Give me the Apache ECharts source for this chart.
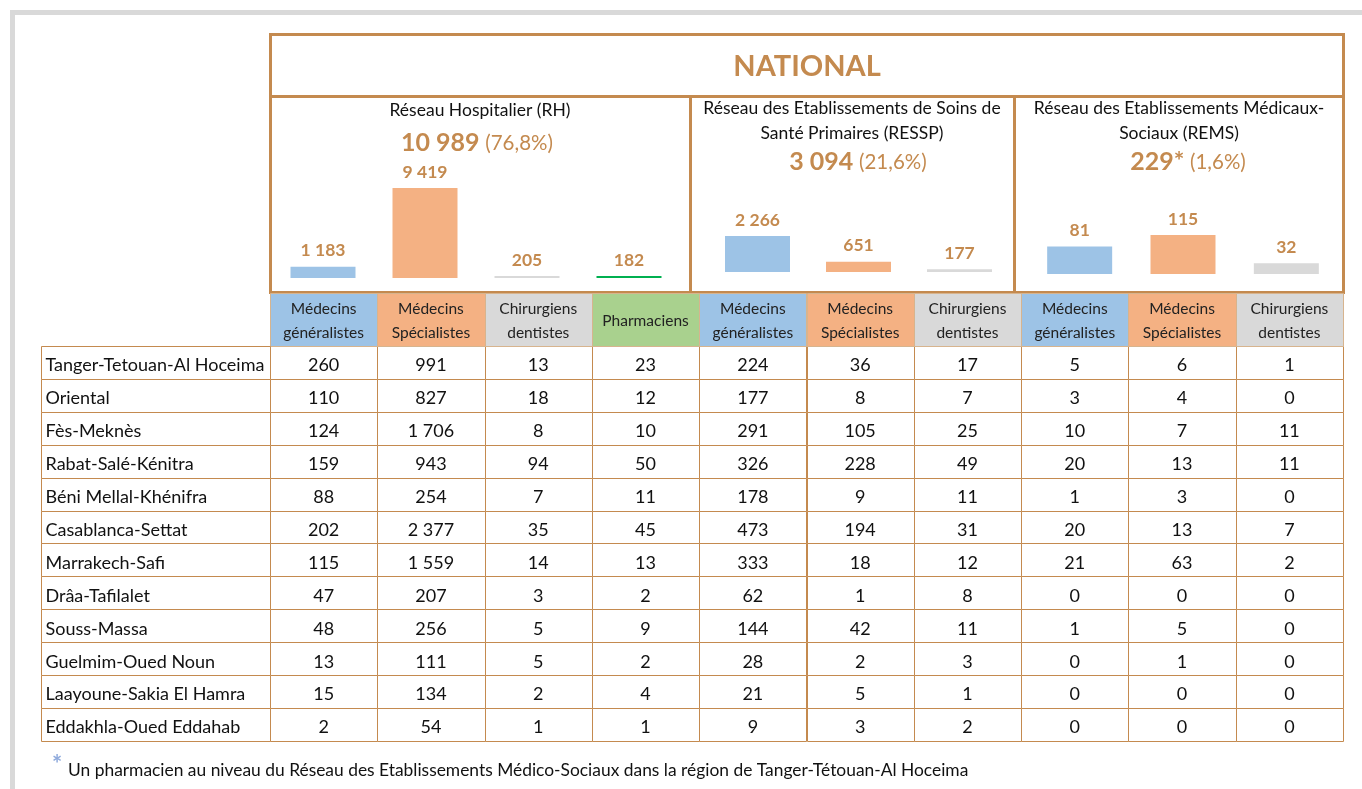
<!DOCTYPE html>
<html>
<head>
<meta charset="utf-8">
<script src="https://cdn.jsdelivr.net/npm/echarts@6/dist/echarts.min.js"></script>
<style>
  html, body { margin: 0; padding: 0; background: #fff; }
  #chart { width: 1362px; height: 789px; }
</style>
</head>
<body>
<div id="chart"></div>
<script>
// ---------------- DATA ----------------
const regions = [
  'Tanger-Tetouan-Al Hoceima', 'Oriental', 'Fès-Meknès', 'Rabat-Salé-Kénitra',
  'Béni Mellal-Khénifra', 'Casablanca-Settat', 'Marrakech-Safi', 'Drâa-Tafilalet',
  'Souss-Massa', 'Guelmim-Oued Noun', 'Laayoune-Sakia El Hamra', 'Eddakhla-Oued Eddahab'
];
const columnHeaders = [
  'Médecins\ngénéralistes', 'Médecins\nSpécialistes', 'Chirurgiens\ndentistes', 'Pharmaciens',
  'Médecins\ngénéralistes', 'Médecins\nSpécialistes', 'Chirurgiens\ndentistes',
  'Médecins\ngénéralistes', 'Médecins\nSpécialistes', 'Chirurgiens\ndentistes'
];
const columnKinds = ['gen', 'spec', 'dent', 'pharm', 'gen', 'spec', 'dent', 'gen', 'spec', 'dent'];

const rhGeneralistes    = [260, 110, 124, 159, 88, 202, 115, 47, 48, 13, 15, 2];
const rhSpecialistes    = [991, 827, 1706, 943, 254, 2377, 1559, 207, 256, 111, 134, 54];
const rhDentistes       = [13, 18, 8, 94, 7, 35, 14, 3, 5, 5, 2, 1];
const rhPharmaciens     = [23, 12, 10, 50, 11, 45, 13, 2, 9, 2, 4, 1];
const resspGeneralistes = [224, 177, 291, 326, 178, 473, 333, 62, 144, 28, 21, 9];
const resspSpecialistes = [36, 8, 105, 228, 9, 194, 18, 1, 42, 2, 5, 3];
const resspDentistes    = [17, 7, 25, 49, 11, 31, 12, 8, 11, 3, 1, 2];
const remsGeneralistes  = [5, 3, 10, 20, 1, 20, 21, 0, 1, 0, 0, 0];
const remsSpecialistes  = [6, 4, 7, 13, 3, 13, 63, 0, 5, 1, 0, 0];
const remsDentistes     = [1, 0, 11, 11, 0, 7, 2, 0, 0, 0, 0, 0];

const rhTotals    = [1183, 9419, 205, 182];
const resspTotals = [2266, 651, 177];
const remsTotals  = [81, 115, 32];
const rhKinds     = ['gen', 'spec', 'dent', 'pharmBar'];
const resspKinds  = ['gen', 'spec', 'dent'];
const remsKinds   = ['gen', 'spec', 'dent'];

const panelTitles = [
  'Réseau Hospitalier (RH)',
  'Réseau des Etablissements de Soins de\nSanté Primaires (RESSP)',
  'Réseau des Etablissements Médicaux-\nSociaux (REMS)'
];
const panelTotals = ['10 989', '3 094', '229*'];
const panelShares = ['(76,8%)', '(21,6%)', '(1,6%)'];
const mainTitle = 'NATIONAL';
const footnoteText = 'Un pharmacien au niveau du Réseau des Etablissements Médico-Sociaux dans la région de Tanger-Tétouan-Al Hoceima';

// ---------------- STYLE ----------------
const FONT = 'Lato, "Noto Sans", sans-serif';
const BORDER = '#C48A4F';
const BROWN = '#C48A4F';
const fills = { gen: '#9DC3E6', spec: '#F4B183', dent: '#D9D9D9', pharm: '#A9D18E', pharmBar: '#00B050' };

const tableCols = [rhGeneralistes, rhSpecialistes, rhDentistes, rhPharmaciens,
  resspGeneralistes, resspSpecialistes, resspDentistes,
  remsGeneralistes, remsSpecialistes, remsDentistes];

function fmt(n) { return String(n).replace(/\B(?=(\d{3})+(?!\d))/g, ' '); }

const bodyData = [];
tableCols.forEach((col, c) => col.forEach((v, r) => bodyData.push([c, r, v])));
const headerData = columnHeaders.map((h, c) => [c, 0, c]);
const labelData = regions.map((name, r) => [0, r, r]);

function cellBox(api) {
  const p = api.coord([api.value(0), api.value(1)]);
  const s = api.size([1, 1]);
  const l = Math.round(p[0] - s[0] / 2) + 0.5;
  const t = Math.round(p[1] - s[1] / 2) + 0.5;
  const r = Math.round(p[0] + s[0] / 2) + 0.5;
  const b = Math.round(p[1] + s[1] / 2) + 0.5;
  return { p, l, t, w: r - l, h: b - t };
}

function textStyle(o) {
  return Object.assign({ textAlign: o.align, textVerticalAlign: o.verticalAlign }, o);
}

function makeBars(idx, values, kinds) {
  return {
    type: 'bar', xAxisIndex: idx, yAxisIndex: idx,
    barWidth: 65, barMinHeight: 2,
    data: values.map((v, i) => ({ value: v, itemStyle: { color: fills[kinds[i]] } })),
    label: { show: true, position: 'top', distance: 7, formatter: p => fmt(p.value),
      color: BROWN, fontWeight: 'bold', fontSize: 17.5, fontFamily: FONT }
  };
}

const option = {
  animation: false,
  backgroundColor: '#fff',
  grid: [
    { left: 270, top: 346, width: 1073, height: 395 },   // body
    { left: 270, top: 293, width: 1073, height: 53 },    // header
    { left: 41, top: 346, width: 229, height: 395 },     // region labels
    { left: 272, top: 180, width: 408, height: 98 },     // RH bars
    { left: 707, top: 200, width: 303, height: 72 },     // RESSP bars
    { left: 1028, top: 204, width: 310, height: 70 }     // REMS bars
  ],
  xAxis: [
    { gridIndex: 0, type: 'category', data: columnKinds.map((k, i) => 'c' + i), show: false },
    { gridIndex: 1, type: 'category', data: columnKinds.map((k, i) => 'c' + i), show: false },
    { gridIndex: 2, type: 'category', data: ['label'], show: false },
    { gridIndex: 3, type: 'category', data: rhKinds, show: false },
    { gridIndex: 4, type: 'category', data: resspKinds, show: false },
    { gridIndex: 5, type: 'category', data: remsKinds, show: false }
  ],
  yAxis: [
    { gridIndex: 0, type: 'category', data: regions, inverse: true, show: false },
    { gridIndex: 1, type: 'category', data: ['header'], show: false },
    { gridIndex: 2, type: 'category', data: regions, inverse: true, show: false },
    { gridIndex: 3, type: 'value', min: 0, max: 10250, show: false },
    { gridIndex: 4, type: 'value', min: 0, max: 4530, show: false },
    { gridIndex: 5, type: 'value', min: 0, max: 206, show: false }
  ],
  series: [
    {
      type: 'custom', xAxisIndex: 0, yAxisIndex: 0, data: bodyData,
      encode: { x: 0, y: 1 },
      renderItem: function (params, api) {
        const b = cellBox(api);
        return { type: 'group', children: [
          { type: 'rect', shape: { x: b.l, y: b.t, width: b.w, height: b.h },
            style: { fill: '#fff', stroke: BORDER, lineWidth: 1 } },
          { type: 'text', style: textStyle({ text: fmt(api.value(2)), x: b.p[0], y: b.p[1] + 3,
            align: 'center', verticalAlign: 'middle', font: '18px ' + FONT, fill: '#111' }) }
        ] };
      }
    },
    {
      type: 'custom', xAxisIndex: 1, yAxisIndex: 1, data: headerData,
      encode: { x: 0, y: 1 },
      renderItem: function (params, api) {
        const b = cellBox(api);
        const c = api.value(2);
        return { type: 'group', children: [
          { type: 'rect', shape: { x: b.l, y: b.t, width: b.w, height: b.h },
            style: { fill: fills[columnKinds[c]], stroke: '#D7B48E', lineWidth: 1 } },
          { type: 'text', style: textStyle({ text: columnHeaders[c], x: b.p[0], y: b.p[1] + 1.5,
            align: 'center', verticalAlign: 'middle', font: '15.5px ' + FONT, lineHeight: 24, fill: '#222' }) }
        ] };
      }
    },
    {
      type: 'custom', xAxisIndex: 2, yAxisIndex: 2, data: labelData,
      encode: { x: 0, y: 1 },
      renderItem: function (params, api) {
        const b = cellBox(api);
        return { type: 'group', children: [
          { type: 'rect', shape: { x: b.l, y: b.t, width: b.w, height: b.h },
            style: { fill: '#fff', stroke: BORDER, lineWidth: 1 } },
          { type: 'text', style: textStyle({ text: regions[api.value(2)], x: b.l + 4, y: b.p[1] + 3,
            align: 'left', verticalAlign: 'middle', font: '18px ' + FONT, fill: '#111' }) }
        ] };
      }
    },
    makeBars(3, rhTotals, rhKinds),
    makeBars(4, resspTotals, resspKinds),
    makeBars(5, remsTotals, remsKinds)
  ],
  graphic: { elements: [] }
};

const g = option.graphic.elements;
// outer gray frame
g.push({ type: 'rect', shape: { x: 10, y: 10, width: 1352, height: 5 }, style: { fill: '#D9D9D9' } });
g.push({ type: 'rect', shape: { x: 10, y: 10, width: 5, height: 779 }, style: { fill: '#D9D9D9' } });
// national box
g.push({ type: 'rect', shape: { x: 270.5, y: 34.5, width: 1073, height: 258 }, style: { fill: 'none', stroke: BORDER, lineWidth: 3 } });
g.push({ type: 'line', shape: { x1: 270, y1: 96.5, x2: 1343, y2: 96.5 }, style: { stroke: BORDER, lineWidth: 3 } });
g.push({ type: 'line', shape: { x1: 690.5, y1: 96, x2: 690.5, y2: 292 }, style: { stroke: BORDER, lineWidth: 3 } });
g.push({ type: 'line', shape: { x1: 1014.5, y1: 96, x2: 1014.5, y2: 292 }, style: { stroke: BORDER, lineWidth: 3 } });
// title
g.push({ type: 'text', style: textStyle({ text: mainTitle, x: 807, y: 67, align: 'center', verticalAlign: 'middle',
  font: 'bold 29px ' + FONT, fill: BROWN }) });
// panel titles and totals
const panelCenters = [480, 852, 1179];
const totalCenters = [477, 858, 1188];
const totalY = [143, 162, 162];
panelTitles.forEach((t, i) => {
  const twoLines = t.indexOf('\n') >= 0;
  g.push({ type: 'text', style: textStyle({ text: t, x: panelCenters[i], y: twoLines ? 96 : 110,
    align: 'center', verticalAlign: twoLines ? 'top' : 'middle',
    font: '17.5px ' + FONT, lineHeight: 25, fill: '#111' }) });
  g.push({ type: 'text', style: textStyle({
    text: '{a|' + panelTotals[i] + '}{s| }{b|' + panelShares[i] + '}',
    x: totalCenters[i], y: totalY[i], align: 'center', verticalAlign: 'middle',
    rich: { a: { fontFamily: FONT, fontSize: 25, fontWeight: 'bold', fill: BROWN },
            s: { fontFamily: FONT, fontSize: 22, fill: BROWN },
            b: { fontFamily: FONT, fontSize: 20.5, fill: BROWN } } }) });
});
// footnote
g.push({ type: 'text', style: textStyle({ text: '*', x: 57, y: 765, align: 'center', verticalAlign: 'middle',
  font: 'bold 24px ' + FONT, fill: '#8FAADC' }) });
g.push({ type: 'text', style: textStyle({ text: footnoteText, x: 68, y: 770, align: 'left', verticalAlign: 'middle',
  font: '17.4px ' + FONT, fill: '#111' }) });

const chart = echarts.init(document.getElementById('chart'), null, { renderer: 'canvas' });
chart.setOption(option);
</script>
</body>
</html>
